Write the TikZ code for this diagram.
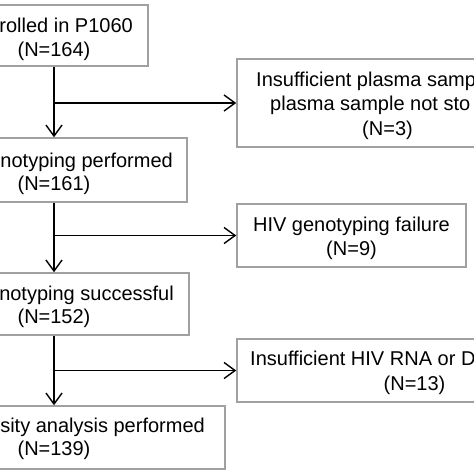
\documentclass[tikz,border=0pt]{standalone}
\usepackage{fontspec}
\setmainfont{Liberation Sans}
\usetikzlibrary{arrows.meta}
\begin{document}
\begin{tikzpicture}[x=1pt,y=-1pt,
  box/.style={draw=boxgray,line width=1.5pt,rectangle,inner sep=0pt,fill=white},
  txt/.style={inner sep=0pt,font=\fontsize{20}{24}\selectfont},
  conn/.style={draw=black,line width=1.4pt,-{Straight Barb[length=11pt,width=16pt,line width=1.4pt]}}]
\definecolor{boxgray}{RGB}{160,160,160}
\useasboundingbox (0,0) rectangle (474,474);
\clip (0,0) rectangle (474,474);
% left boxes
\node[box,minimum width=188pt,minimum height=61pt] (b1) at (54,35.5) {};
\node[box,minimum width=266pt,minimum height=64pt] (b3) at (54,170) {};
\node[box,minimum width=270pt,minimum height=62pt] (b5) at (54,304) {};
\node[box,minimum width=342pt,minimum height=63pt] (b7) at (54,437.5) {};
% right boxes
\node[box,minimum width=320pt,minimum height=88pt] (b2) at (397,103) {};
\node[box,minimum width=229pt,minimum height=63pt] (b4) at (351.5,235.5) {};
\node[box,minimum width=320pt,minimum height=63pt] (b6) at (397,370.5) {};
% texts
\node[txt,anchor=base east] (t1a) at (133,32) {rolled in P1060};
\node[txt,anchor=base] (t1b) at (54,56) {(N=164)};
\node[txt,anchor=base east] (t3a) at (173,167) {notyping performed};
\node[txt,anchor=base] (t3b) at (54,190) {(N=161)};
\node[txt,anchor=base east] (t5a) at (174,300) {notyping successful};
\node[txt,anchor=base] (t5b) at (54,323) {(N=152)};
\node[txt,anchor=base east] (t7a) at (205,432) {sity analysis performed};
\node[txt,anchor=base] (t7b) at (54,455) {(N=139)};
\node[txt,anchor=base west] (t2a) at (256,86) {Insufficient plasma samp};
\node[txt,anchor=base west] (t2b) at (270,110) {plasma sample not sto};
\node[txt,anchor=base] (t2c) at (387.5,135) {(N=3)};
\node[txt,anchor=base] (t4a) at (351.5,231) {HIV genotyping failure};
\node[txt,anchor=base] (t4b) at (351.5,255) {(N=9)};
\node[txt,anchor=base west] (t6a) at (250,365) {Insufficient HIV RNA or D};
\node[txt,anchor=base] (t6b) at (414.5,390) {(N=13)};
% connectors
\coordinate (j1) at (54,103);
\coordinate (j2) at (54,235.5);
\coordinate (j3) at (54,370.5);
\draw[conn] (b1.south) -- (b3.north);
\draw[conn] (j1) -- (b2.west);
\draw[conn] (b3.south) -- (b5.north);
\draw[conn] (j2) -- (b4.west);
\draw[conn] (b5.south) -- (b7.north);
\draw[conn] (j3) -- (b6.west);
\end{tikzpicture}
\end{document}
